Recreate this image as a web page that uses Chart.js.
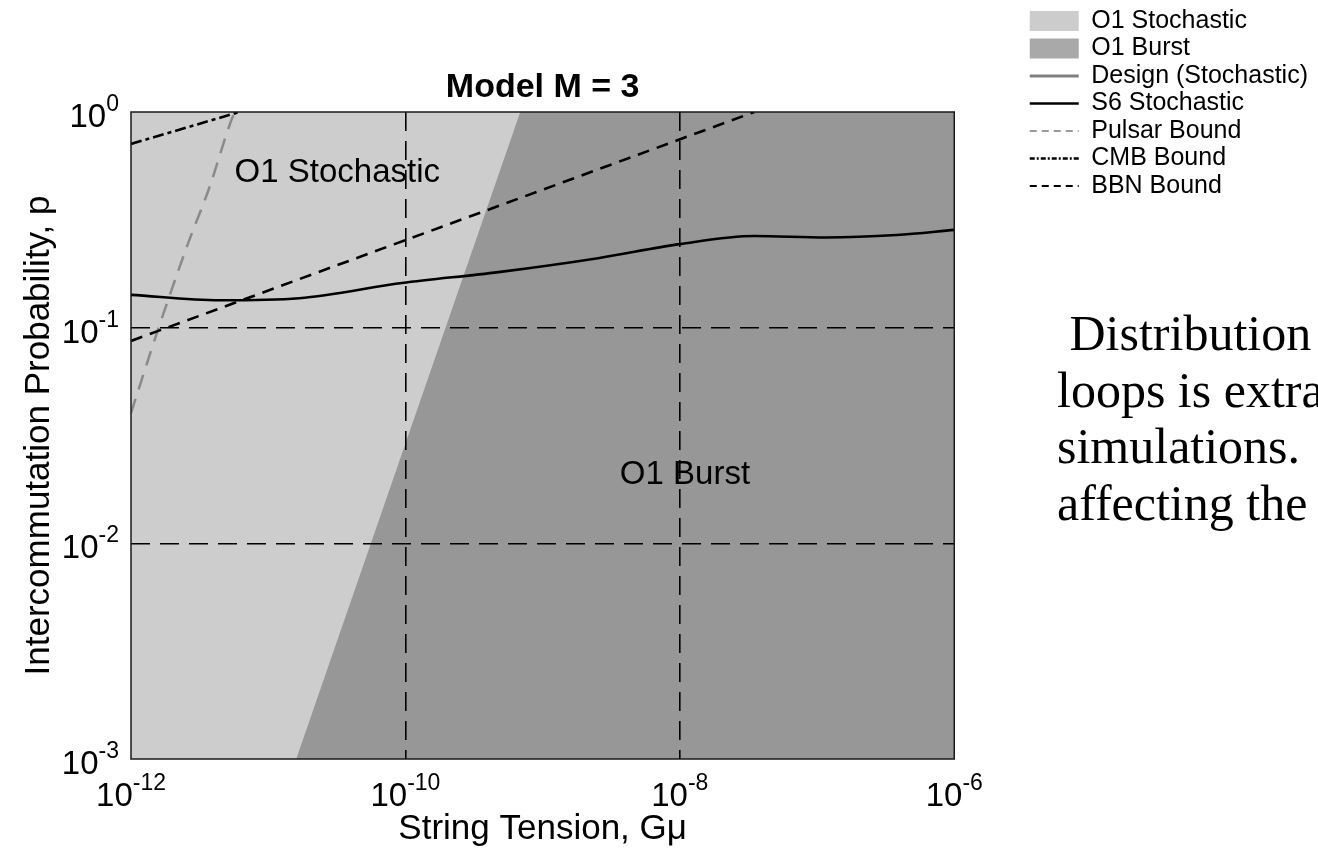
<!DOCTYPE html>
<html>
<head>
<meta charset="utf-8">
<script src="https://cdn.jsdelivr.net/npm/chart.js@4.4.1/dist/chart.umd.min.js"></script>
<style>
html,body{margin:0;padding:0;width:1318px;height:853px;overflow:hidden;background:#fff;}
#c{position:absolute;left:0;top:0;}
#para{position:absolute;left:1057px;top:305px;font-family:"Liberation Serif","Times New Roman",serif;font-size:50px;line-height:56.5px;white-space:nowrap;color:#000;}
</style>
</head>
<body>
<canvas id="c" width="1318" height="853"></canvas>
<div id="para">&nbsp;Distribution<br>loops is extra<br>simulations.<br>affecting the</div>
<script>
// ---- tick labels ----
const xTickValues = [1e-12, 1e-10, 1e-8, 1e-6];
const xTickExponents = ['-12', '-10', '-8', '-6'];
const yTickValues = [1e-3, 1e-2, 1e-1, 1];
const yTickExponents = ['-3', '-2', '-1', '0'];

// ---- O1 Stochastic excluded region (whole plane up to p = 1) ----
const stochasticG = [1e-12, 1e-6];
const stochasticP = [1, 1];

// ---- O1 Burst region boundary (region below / right of it) ----
const burstG = [1.60e-11, 6.87e-10, 1e-6];
const burstP = [1e-3, 1, 1];

// ---- S6 Stochastic ----
const s6G = [1e-12, 4.43e-12, 1.68e-11, 9.4e-11, 4.76e-10, 2.53e-9, 1e-8, 3.49e-8, 1.16e-7, 3.8e-7, 1e-6];
const s6P = [0.142, 0.134, 0.137, 0.161, 0.181, 0.210, 0.244, 0.266, 0.262, 0.269, 0.284];

// ---- Pulsar Bound ----
const pulsarG = [1e-12, 1.57e-12, 2.55e-12, 3.74e-12, 5.5e-12, 6.18e-12];
const pulsarP = [0.0402, 0.0975, 0.237, 0.449, 0.948, 1];

// ---- CMB Bound ----
const cmbG = [1e-12, 6.18e-12];
const cmbP = [0.711, 1];

// ---- BBN Bound ----
const bbnG = [1e-12, 3.49e-8];
const bbnP = [0.0868, 1];

// ---- Design (Stochastic): no curve inside the plotted range ----
const designG = [];
const designP = [];

const pts = (gs, ps) => gs.map((g, i) => ({x: g, y: ps[i]}));
const FONT = '"Liberation Sans", Arial, Helvetica, sans-serif';
Chart.defaults.font.family = FONT;
Chart.defaults.color = '#000';

const regionLabels = [
  {text: 'O1 Stochastic', g: 5.69e-12, p: 0.524, align: 'left'},
  {text: 'O1 Burst', g: 1.09e-8, p: 0.0207, align: 'center'}
];

const legendStyles = [
  {pointStyle: 'rect', fillStyle: '#cccccc', strokeStyle: 'rgba(0,0,0,0)', lineWidth: 0, lineDash: []},
  {pointStyle: 'rect', fillStyle: '#a9a9a9', strokeStyle: 'rgba(0,0,0,0)', lineWidth: 0, lineDash: []},
  {pointStyle: 'line', fillStyle: 'rgba(0,0,0,0)', strokeStyle: '#808080', lineWidth: 3, lineDash: []},
  {pointStyle: 'line', fillStyle: 'rgba(0,0,0,0)', strokeStyle: '#000000', lineWidth: 2.5, lineDash: []},
  {pointStyle: 'line', fillStyle: 'rgba(0,0,0,0)', strokeStyle: '#9a9a9a', lineWidth: 2, lineDash: [7, 5]},
  {pointStyle: 'line', fillStyle: 'rgba(0,0,0,0)', strokeStyle: '#000000', lineWidth: 2.5, lineDash: [5, 2, 2, 2]},
  {pointStyle: 'line', fillStyle: 'rgba(0,0,0,0)', strokeStyle: '#000000', lineWidth: 2, lineDash: [7, 5]}
];

const decorations = {
  id: 'decorations',
  afterDatasetsDraw(chart) {
    const {ctx, scales: {x, y}} = chart;
    ctx.save();
    ctx.fillStyle = '#000';
    ctx.font = '33px ' + FONT;
    ctx.textBaseline = 'middle';
    regionLabels.forEach(l => {
      ctx.textAlign = l.align;
      ctx.fillText(l.text, x.getPixelForValue(l.g), y.getPixelForValue(l.p));
    });
    ctx.restore();
  },
  afterDraw(chart) {
    const {ctx, chartArea: a, scales: {x, y}} = chart;
    ctx.save();
    ctx.strokeStyle = '#1a1a1a';
    ctx.lineWidth = 1.5;
    ctx.setLineDash([]);
    ctx.strokeRect(a.left, a.top, a.right - a.left, a.bottom - a.top);
    const base = '33px ' + FONT;
    const sup = '23px ' + FONT;
    ctx.fillStyle = '#000';
    ctx.textBaseline = 'alphabetic';
    ctx.textAlign = 'left';
    xTickValues.forEach((v, i) => {
      const px = x.getPixelForValue(v);
      ctx.font = base; const w1 = ctx.measureText('10').width;
      ctx.font = sup; const w2 = ctx.measureText(xTickExponents[i]).width;
      const sx = px - (w1 + w2) / 2;
      ctx.font = base; ctx.fillText('10', sx, a.bottom + 47);
      ctx.font = sup; ctx.fillText(xTickExponents[i], sx + w1, a.bottom + 31);
    });
    yTickValues.forEach((v, i) => {
      const py = y.getPixelForValue(v);
      const right = a.left - 12;
      ctx.font = sup; const w2 = ctx.measureText(yTickExponents[i]).width;
      ctx.font = base; const w1 = ctx.measureText('10').width;
      ctx.font = base; ctx.fillText('10', right - w2 - w1, py + 15);
      ctx.font = sup; ctx.fillText(yTickExponents[i], right - w2, py - 1);
    });
    ctx.restore();
  }
};

const edgeColor = (vals) => (c) => {
  const v = c.tick ? c.tick.value : null;
  return (v === vals[0] || v === vals[vals.length - 1]) ? 'rgba(0,0,0,0)' : '#000';
};

new Chart(document.getElementById('c'), {
  type: 'line',
  data: {
    datasets: [
      {label: 'O1 Stochastic', data: pts(stochasticG, stochasticP), borderWidth: 0, pointRadius: 0,
       backgroundColor: '#cdcdcd', borderColor: 'rgba(0,0,0,0)', fill: 'start', order: 10},
      {label: 'O1 Burst', data: pts(burstG, burstP), borderWidth: 0, pointRadius: 0,
       backgroundColor: '#979797', borderColor: 'rgba(0,0,0,0)', fill: 'start', order: 9, tension: 0},
      {label: 'Design (Stochastic)', data: pts(designG, designP), borderWidth: 3, pointRadius: 0,
       borderColor: '#808080', fill: false, order: 5},
      {label: 'S6 Stochastic', data: pts(s6G, s6P), borderWidth: 2.6, pointRadius: 0,
       borderColor: '#000', fill: false, order: 1, cubicInterpolationMode: 'monotone'},
      {label: 'Pulsar Bound', data: pts(pulsarG, pulsarP), borderWidth: 2.5, pointRadius: 0,
       borderColor: '#8a8a8a', borderDash: [15, 10], fill: false, order: 4, tension: 0.3},
      {label: 'CMB Bound', data: pts(cmbG, cmbP), borderWidth: 2.6, pointRadius: 0,
       borderColor: '#000', borderDash: [11, 4, 4, 4], fill: false, order: 3},
      {label: 'BBN Bound', data: pts(bbnG, bbnP), borderWidth: 2.6, pointRadius: 0,
       borderColor: '#000', borderDash: [12, 8], fill: false, order: 2}
    ]
  },
  options: {
    responsive: false,
    animation: false,
    devicePixelRatio: 1,
    layout: {padding: {top: 6, left: 0, right: 0, bottom: 0}},
    plugins: {
      title: {
        display: true, text: 'Model M = 3', fullSize: false, color: '#000',
        font: {size: 34, weight: 'bold', lineHeight: 1.2},
        padding: {top: 61.6, bottom: 3.6}
      },
      legend: {
        display: true, position: 'right', align: 'start', maxWidth: 400,
        labels: {
          usePointStyle: true, pointStyleWidth: 49, boxHeight: 20, padding: 2.5,
          color: '#000', font: {size: 25},
          generateLabels: (chart) => chart.data.datasets.map((d, i) => Object.assign({
            text: d.label, datasetIndex: i, hidden: false, fontColor: '#000'
          }, legendStyles[i]))
        }
      },
      tooltip: {enabled: false}
    },
    scales: {
      x: {
        type: 'logarithmic', position: 'bottom', min: 1e-12, max: 1e-6,
        afterBuildTicks: (s) => { s.ticks = xTickValues.map(v => ({value: v})); },
        afterFit: (s) => { s.height = 94; },
        ticks: {display: false},
        grid: {display: true, drawTicks: false, color: edgeColor(xTickValues), lineWidth: 1.6, z: 1},
        border: {display: false, dash: [19, 10]},
        title: {display: true, text: 'String Tension, Gμ', color: '#000',
                font: {size: 35, lineHeight: 1}, padding: {top: 0, bottom: 6}}
      },
      y: {
        type: 'logarithmic', position: 'left', min: 1e-3, max: 1,
        afterBuildTicks: (s) => { s.ticks = yTickValues.map(v => ({value: v})); },
        afterFit: (s) => { s.width = 131; },
        ticks: {display: false},
        grid: {display: true, drawTicks: false, color: edgeColor(yTickValues), lineWidth: 1.6, z: 1},
        border: {display: false, dash: [19, 10]},
        title: {display: true, text: 'Intercommutation Probability, p', color: '#000',
                font: {size: 35, lineHeight: 1}, padding: {top: 22, bottom: 0}}
      },
      yR: {
        type: 'linear', position: 'right', display: true,
        afterFit: (s) => { s.width = 73; },
        ticks: {display: false},
        grid: {display: false, drawTicks: false},
        border: {display: false}
      }
    }
  },
  plugins: [decorations]
});
</script>
</body>
</html>
